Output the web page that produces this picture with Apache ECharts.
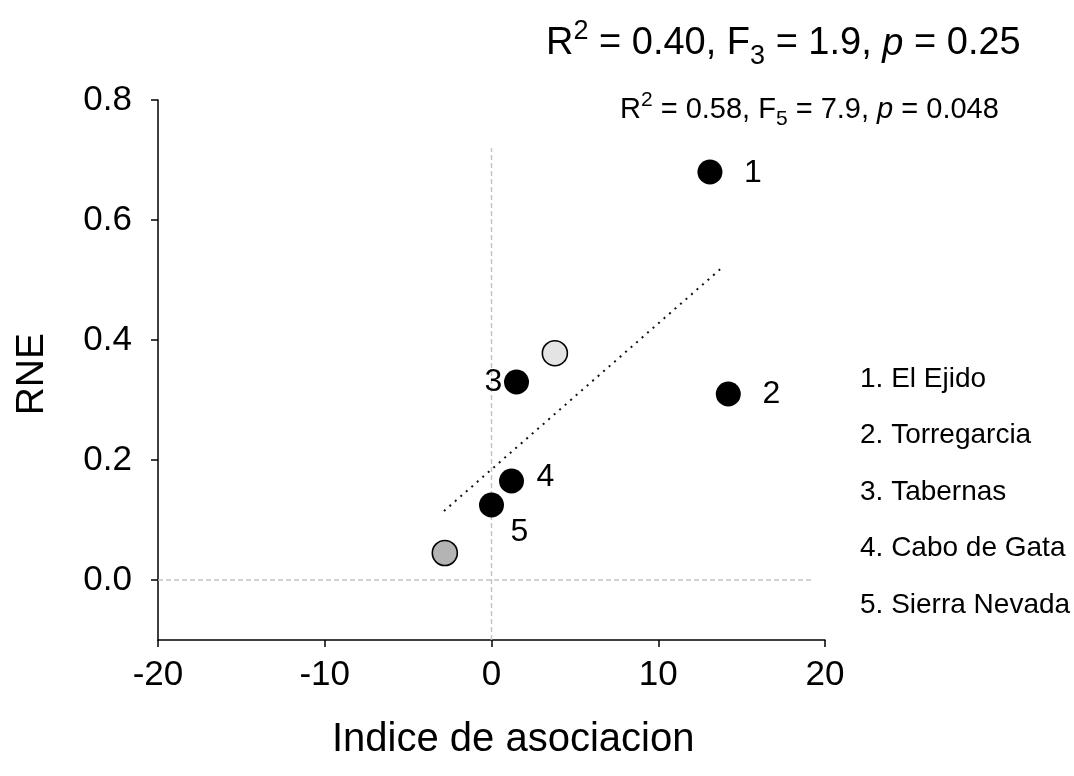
<!DOCTYPE html>
<html>
<head>
<meta charset="utf-8">
<script src="https://cdn.jsdelivr.net/npm/echarts@6/dist/echarts.min.js"></script>
<style>
  html, body { margin: 0; padding: 0; background: #fff; }
  #chart { width: 1074px; height: 776px; }
</style>
</head>
<body>
<div id="chart"></div>
<script>
// Sites: association index (x) vs RNE (y)
const siteNumbers = ['1', '2', '3', '4', '5'];
const siteNames = ['El Ejido', 'Torregarcia', 'Tabernas', 'Cabo de Gata', 'Sierra Nevada'];
const siteIndex = [13.1, 14.2, 1.5, 1.2, 0.0];
const siteRNE = [0.68, 0.31, 0.33, 0.165, 0.125];

// Additional open (grey) points
const extraIndex = [3.8, -2.8];
const extraRNE = [0.378, 0.045];

// Fitted line end points
const fitIndex = [-2.85, 13.8];
const fitRNE = [0.115, 0.52];

// Zero reference lines
const zeroVertical = [[0, -0.1], [0, 0.72]];
const zeroHorizontal = [[-20, 0], [19.2, 0]];

const xTicks = [-20, -10, 0, 10, 20];
const yTicks = [0, 0.2, 0.4, 0.6, 0.8];

// Label placement around each numbered point (offset from marker centre)
const labelOffsets = [[43, 1], [43, 0], [-23, 0], [34, -4], [28, 27]];
const extraFills = ['#e4e4e4', '#b4b4b4'];

const FONT = '"Liberation Sans", Arial, sans-serif';

const chart = echarts.init(document.getElementById('chart'), null, { renderer: 'canvas' });

const siteData = siteIndex.map((x, i) => ({
  value: [x, siteRNE[i]],
  label: {
    show: true,
    formatter: siteNumbers[i],
    position: 'inside',
    offset: labelOffsets[i],
    fontFamily: FONT,
    fontSize: 32,
    color: '#000'
  }
}));

const extraData = extraIndex.map((x, i) => ({
  value: [x, extraRNE[i]],
  itemStyle: { color: extraFills[i] }
}));

const statsRich = (base, small, lh, smallLh) => ({
  b: { fontFamily: FONT, fontSize: base, color: '#000', lineHeight: lh },
  i: { fontFamily: FONT, fontSize: base, color: '#000', lineHeight: lh, fontStyle: 'italic' },
  sup: { fontFamily: FONT, fontSize: small, color: '#000', lineHeight: smallLh, verticalAlign: 'top' },
  sub: { fontFamily: FONT, fontSize: small, color: '#000', lineHeight: smallLh, verticalAlign: 'bottom' }
});

const legendLines = siteNames.map((n, i) => ({
  type: 'text',
  left: 860,
  top: 365 + i * 56.5,
  style: { text: siteNumbers[i] + '. ' + n, fontFamily: FONT, fontSize: 28, fill: '#000' }
}));

chart.setOption({
  animation: false,
  backgroundColor: '#fff',
  grid: { left: 158, right: 249, top: 100, bottom: 136, containLabel: false },
  xAxis: {
    type: 'value',
    min: -20, max: 20, interval: 10,
    axisLine: { show: true, onZero: false, lineStyle: { color: '#000', width: 1.5 } },
    axisTick: { show: true, inside: false, length: 7, lineStyle: { color: '#000', width: 1.5 }, customValues: xTicks },
    axisLabel: { fontFamily: FONT, fontSize: 35, color: '#000', margin: 18, customValues: xTicks },
    splitLine: { show: false }
  },
  yAxis: {
    type: 'value',
    min: -0.1, max: 0.8, interval: 0.1,
    axisLine: { show: true, onZero: false, lineStyle: { color: '#000', width: 1.5 } },
    axisTick: { show: true, inside: false, length: 7, lineStyle: { color: '#000', width: 1.5 }, customValues: yTicks },
    axisLabel: { fontFamily: FONT, fontSize: 35, color: '#000', margin: 26, customValues: yTicks,
      formatter: v => v.toFixed(1) },
    splitLine: { show: false }
  },
  graphic: [
    {
      type: 'text', left: 546, top: 18,
      style: {
        text: '{b|R}{sup|2}{b| = 0.40, F}{sub|3}{b| = 1.9, }{i|p}{b| = 0.25}',
        rich: statsRich(38, 27, 52, 34)
      }
    },
    {
      type: 'text', left: 620, top: 90,
      style: {
        text: '{b|R}{sup|2}{b| = 0.58, F}{sub|5}{b| = 7.9, }{i|p}{b| = 0.048}',
        rich: statsRich(29, 21, 40, 26)
      }
    },
    {
      type: 'text', left: 332, top: 720,
      style: { text: 'Indice de asociacion', fontFamily: FONT, fontSize: 40, fill: '#000' }
    },
    {
      type: 'text', left: 13, top: 333, rotation: Math.PI / 2,
      style: { text: 'RNE', fontFamily: FONT, fontSize: 39, fill: '#000' }
    }
  ].concat(legendLines),
  series: [
    {
      type: 'line', data: zeroVertical, symbol: 'none', silent: true,
      lineStyle: { color: '#c4c4c4', width: 1.5, type: [5, 3] }, z: 1
    },
    {
      type: 'line', data: zeroHorizontal, symbol: 'none', silent: true,
      lineStyle: { color: '#c4c4c4', width: 1.5, type: [5, 3] }, z: 1
    },
    {
      type: 'line', data: fitIndex.map((x, i) => [x, fitRNE[i]]), symbol: 'none', silent: true,
      lineStyle: { color: '#111', width: 2, type: [2, 5.3] }, z: 2
    },
    {
      type: 'scatter', data: extraData, symbol: 'circle', symbolSize: 25,
      itemStyle: { borderColor: '#000', borderWidth: 1.6, opacity: 1 }, z: 3
    },
    {
      type: 'scatter', data: siteData, symbol: 'circle', symbolSize: 25,
      itemStyle: { color: '#000', opacity: 1 }, z: 4
    }
  ]
});
</script>
</body>
</html>
